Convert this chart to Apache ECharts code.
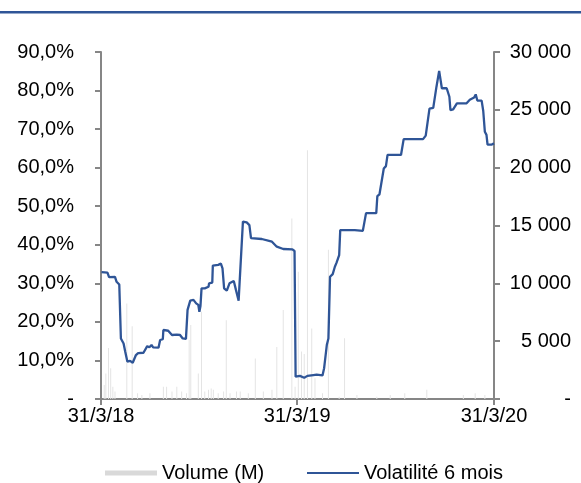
<!DOCTYPE html>
<html>
<head>
<meta charset="utf-8">
<script src="https://cdn.jsdelivr.net/npm/echarts@6/dist/echarts.min.js"></script>
<style>
  html, body { margin: 0; padding: 0; background: #fff; }
  #chart { width: 581px; height: 483px; }
</style>
</head>
<body>
<div id="chart"></div>
<script>
// days counted from 31/3/18
const volDays = [1, 12, 15, 26, 29, 34, 37, 42, 45, 49, 54, 59, 65, 69, 79, 82, 86, 90, 94, 97, 107, 110, 115, 116, 125, 132, 141, 147, 152, 158, 161, 166, 172, 177, 181, 183, 185, 187, 193, 200, 201, 207, 208, 218, 223, 226, 229, 234, 239, 247, 251, 256, 259, 264, 271, 276, 279, 299, 318, 327, 339, 356, 360, 362, 364, 370, 378, 384, 395, 401, 412, 415, 420, 423, 426, 431, 435, 438, 443, 445, 472, 487, 493, 512, 514, 518, 526, 530, 533, 558, 563, 599, 604, 611, 618, 624, 629, 634, 643, 648, 650, 655, 662, 680, 686, 694, 697, 700, 708, 711, 714, 717, 719, 727, 731]
const volValues = [32.9, 32.8, 31.6, 31.7, 30.4, 29.7, 15.7, 14.4, 12.3, 9.7, 9.9, 9.4, 11.4, 11.9, 12.0, 12.5, 13.7, 13.4, 14.0, 13.4, 13.3, 15.3, 15.5, 17.9, 17.7, 16.6, 16.7, 16.6, 15.7, 15.6, 23.1, 25.5, 25.7, 24.8, 24.4, 22.6, 24.1, 28.7, 28.7, 29.1, 30.0, 30.2, 34.6, 34.8, 35.1, 33.9, 28.7, 28.1, 30.0, 30.6, 28.3, 25.5, 25.7, 46.0, 45.8, 45.1, 41.7, 41.5, 40.8, 39.5, 38.9, 38.8, 38.4, 5.8, 6.2, 6.0, 5.5, 6.0, 6.2, 6.3, 6.1, 8.0, 14.0, 15.7, 31.7, 32.4, 34.3, 35.3, 37.3, 43.8, 43.8, 43.6, 48.2, 48.2, 52.6, 53.1, 59.8, 60.4, 63.3, 63.3, 67.4, 67.4, 68.3, 75.3, 75.5, 81.0, 85.1, 80.6, 80.6, 78.4, 74.9, 75.1, 76.7, 76.7, 77.6, 78.2, 79.0, 77.4, 77.4, 74.7, 69.3, 68.5, 66.0, 66.0, 66.3]

const qtyDays = [6, 9, 14, 18, 22, 26, 48, 58, 68, 76, 91, 116, 122, 132, 141, 150, 159, 164, 167, 181, 187, 193, 200, 205, 209, 218, 228, 233, 240, 252, 259, 274, 287, 302, 318, 327, 339, 355, 361, 367, 373, 378, 384, 392, 398, 412, 423, 443, 453, 476, 513, 538, 565, 606, 674, 696, 714]
const qtyValues = [1200, 2200, 4400, 2650, 1050, 650, 8250, 6300, 500, 350, 500, 1050, 1050, 650, 1050, 650, 500, 5100, 6400, 2200, 7550, 650, 800, 900, 800, 500, 650, 6800, 500, 650, 650, 500, 3500, 650, 800, 4500, 7700, 15600, 1050, 11000, 4100, 3900, 21500, 6100, 1800, 500, 12900, 200, 5250, 350, 200, 350, 500, 800, 350, 500, 350]

const tickDays = [0, 365, 731]
const tickLabels = ['31/3/18', '31/3/19', '31/3/20']
const leftTicks = ['-', '10,0%', '20,0%', '30,0%', '40,0%', '50,0%', '60,0%', '70,0%', '80,0%', '90,0%']
const rightTicks = ['-', '5 000', '10 000', '15 000', '20 000', '25 000', '30 000']

const chart = echarts.init(document.getElementById('chart'))

const font = 'Liberation Sans, Arial, sans-serif'
const axisGrey = '#868686'
const blue = '#2F5597'

const legendText = { fontSize: 20, color: '#000', fontFamily: font }

chart.setOption({
  animation: false,
  backgroundColor: '#fff',
  textStyle: { fontFamily: font },
  graphic: [
    {
      type: 'rect',
      shape: { x: 0, y: 11, width: 581, height: 2.5 },
      style: { fill: '#2F5597' }
    }
  ],
  grid: { left: 101, right: 87, top: 52, bottom: 84 },
  legend: [
    {
      left: 105,
      top: 463,
      padding: 0,
      itemWidth: 52,
      itemHeight: 5,
      textStyle: legendText,
      data: [{ name: 'Volume (M)', icon: 'rect', itemStyle: { color: '#d9d9d9' } }]
    },
    {
      left: 307,
      top: 463,
      padding: 0,
      itemWidth: 52,
      itemHeight: 2,
      textStyle: legendText,
      data: [{ name: 'Volatilité 6 mois', icon: 'rect', itemStyle: { color: blue } }]
    }
  ],
  xAxis: {
    type: 'value',
    min: 0,
    max: 731,
    splitLine: { show: false },
    axisLine: { lineStyle: { color: axisGrey, width: 2 } },
    axisTick: {
      show: true,
      length: 6,
      lineStyle: { color: axisGrey, width: 2 },
      customValues: tickDays
    },
    axisLabel: {
      customValues: tickDays,
      fontSize: 20,
      color: '#000',
      margin: 7,
      formatter: v => tickLabels[tickDays.indexOf(v)]
    }
  },
  yAxis: [
    {
      type: 'value',
      min: 0,
      max: 90,
      interval: 10,
      position: 'left',
      splitLine: { show: false },
      axisLine: { show: true, lineStyle: { color: axisGrey, width: 2 } },
      axisTick: { show: true, length: 6, lineStyle: { color: axisGrey, width: 2 } },
      axisLabel: {
        fontSize: 20,
        color: '#000',
        margin: 27,
        formatter: v => leftTicks[Math.round(v / 10)]
      }
    },
    {
      type: 'value',
      min: 0,
      max: 30000,
      interval: 5000,
      position: 'right',
      splitLine: { show: false },
      axisLine: { show: true, lineStyle: { color: axisGrey, width: 2 } },
      axisTick: { show: true, length: 6, lineStyle: { color: axisGrey, width: 2 } },
      axisLabel: {
        fontSize: 20,
        color: '#000',
        margin: 77,
        align: 'right',
        formatter: v => rightTicks[Math.round(v / 5000)]
      }
    }
  ],
  series: [
    {
      name: 'Volume (M)',
      type: 'bar',
      yAxisIndex: 1,
      barWidth: 1,
      itemStyle: { color: '#e4e4e4' },
      data: qtyDays.map((d, i) => [d, qtyValues[i]]),
      z: 1
    },
    {
      name: 'Volatilité 6 mois',
      type: 'line',
      yAxisIndex: 0,
      symbol: 'none',
      lineStyle: { color: blue, width: 2.3 },
      itemStyle: { color: blue },
      data: volDays.map((d, i) => [d, volValues[i]]),
      z: 3
    }
  ]
})
</script>
</body>
</html>
